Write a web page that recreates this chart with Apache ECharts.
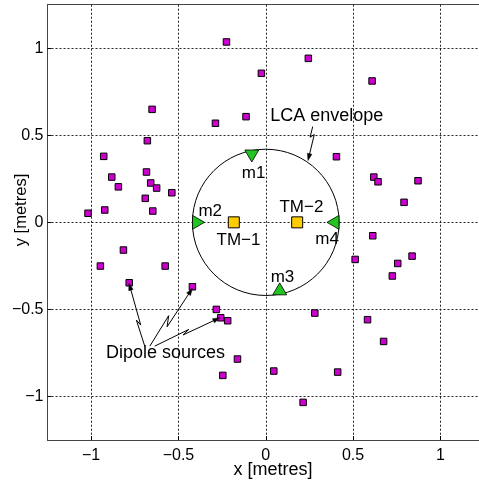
<!DOCTYPE html>
<html><head><meta charset="utf-8">
<script src="https://cdn.jsdelivr.net/npm/echarts@6/dist/echarts.min.js"></script>
<style>html,body{margin:0;padding:0;background:#fff}#c{width:479px;height:486px}</style>
</head><body><div id="c"></div>
<script>
// Dipole source positions (metres)
const sourceX = [-0.225, -0.025, -0.651, -0.288, -0.113, -0.678, -0.928, -0.683, -0.882, -0.844, -0.659, -0.625, -0.538, -0.690, -0.922, -0.647, -1.018,
  0.244, 0.609, 0.405, 0.619, 0.643, 0.872, 0.792,
  -0.815, -0.947, -0.576, -0.782, -0.420, -0.283, -0.258, -0.218, -0.162, -0.246,
  0.613, 0.512, 0.838, 0.756, 0.725, 0.281, 0.583, 0.675, 0.046, 0.412, 0.214];
const sourceY = [1.036, 0.856, 0.649, 0.569, 0.607, 0.469, 0.379, 0.289, 0.260, 0.204, 0.226, 0.197, 0.170, 0.138, 0.071, 0.065, 0.052,
  0.942, 0.812, 0.377, 0.260, 0.233, 0.239, 0.115,
  -0.159, -0.251, -0.251, -0.347, -0.370, -0.500, -0.548, -0.565, -0.785, -0.879,
  -0.077, -0.213, -0.194, -0.236, -0.308, -0.521, -0.559, -0.684, -0.854, -0.860, -1.034];
// Test masses
const testMassX = [-0.183, 0.180];
const testMassY = [0, 0];
// Mirrors (triangles)
const mirrorX = [-0.080, -0.385, 0.080, 0.385];
const mirrorY = [0.381, 0, -0.382, 0];
const mirrorRotate = [180, -90, 0, 90];
// LCA envelope radius
const envelopeRadius = 0.42;
// Ticks
const tickValues = [-1, -0.5, 0, 0.5, 1];
// Text labels
const labelText = ['m1', 'm2', 'm3', 'm4', 'TM\u22121', 'TM\u22122', 'LCA envelope', 'Dipole sources'];
const labelX = [-0.070, -0.318, 0.096, 0.351, -0.156, 0.204, 0.349, -0.574];
const labelY = [0.283, 0.065, -0.317, -0.096, -0.102, 0.085, 0.612, -0.748];
const labelSize = [17, 17, 17, 17, 17, 17, 18, 18];
// Annotation arrows (zigzag polylines, ending at arrowhead)
const arrowPaths = [
  [[0.269, 0.550], [0.254, 0.489], [0.278, 0.504], [0.242, 0.355]],
  [[-0.693, -0.711], [-0.741, -0.561], [-0.716, -0.590], [-0.783, -0.350]],
  [[-0.664, -0.711], [-0.556, -0.536], [-0.565, -0.600], [-0.420, -0.379]],
  [[-0.636, -0.711], [-0.441, -0.615], [-0.474, -0.647], [-0.263, -0.548]]
];

const FONT = 'Liberation Sans, Arial, Helvetica, sans-serif';
const fmt = v => (v < 0 ? '\u2212' + Math.abs(v) : String(v));

const chart = echarts.init(document.getElementById('c'), null, {renderer: 'canvas'});

const axisCommon = {
  type: 'value', min: -1.25, max: 1.25,
  axisLine: {show: true, onZero: false, lineStyle: {color: '#444', width: 1}},
  axisTick: {show: true, inside: true, length: 4, customValues: tickValues, lineStyle: {color: '#000'}},
  axisLabel: {show: true, customValues: tickValues, formatter: fmt, color: '#000', fontSize: 16, fontFamily: FONT},
  splitLine: {show: true, lineStyle: {color: '#222', type: [2, 2], width: 1}}
};

chart.setOption({
  animation: false,
  backgroundColor: '#fff',
  grid: {left: 47.5, top: 4.7, width: 436.5, height: 435.3, containLabel: false, outerBoundsMode: 'none'},
  xAxis: [
    Object.assign({}, axisCommon, {position: 'bottom', axisLabel: Object.assign({}, axisCommon.axisLabel, {margin: 8})}),
    {type: 'value', min: -1.25, max: 1.25, position: 'top',
     axisLine: {show: true, onZero: false, lineStyle: {color: '#444'}}, axisTick: {show: false}, axisLabel: {show: false}, splitLine: {show: false}}
  ],
  yAxis: Object.assign({}, axisCommon, {position: 'left', axisLabel: Object.assign({}, axisCommon.axisLabel, {margin: 4})}),
  graphic: [
    {type: 'text', x: 273, y: 470, style: {text: 'x [metres]', fontSize: 18, fontFamily: FONT, fill: '#000', align: 'center', verticalAlign: 'middle'}},
    {type: 'text', x: 21, y: 210, rotation: Math.PI / 2, style: {text: 'y [metres]', fontSize: 16.5, fontFamily: FONT, fill: '#000', align: 'center', verticalAlign: 'middle'}}
  ],
  series: [
    {
      type: 'custom', name: 'LCA envelope', silent: true, z: 1,
      data: [[0, 0]],
      renderItem: function (params, api) {
        const c = api.coord([api.value(0), api.value(1)]);
        const r = api.size([envelopeRadius, envelopeRadius]);
        return {type: 'ellipse', shape: {cx: c[0], cy: c[1], rx: r[0], ry: r[1]},
                style: {fill: 'none', stroke: '#000', lineWidth: 1}};
      }
    },
    {
      type: 'scatter', name: 'Dipole sources', z: 3,
      symbol: 'rect', symbolSize: 6.5,
      itemStyle: {color: '#cc00cc', borderColor: '#000', borderWidth: 1, opacity: 1},
      data: sourceX.map((x, i) => [x, sourceY[i]])
    },
    {
      type: 'scatter', name: 'Test masses', z: 3,
      symbol: 'rect', symbolSize: 11,
      itemStyle: {color: '#ffcc00', borderColor: '#000', borderWidth: 1, opacity: 1},
      data: testMassX.map((x, i) => [x, testMassY[i]])
    },
    {
      type: 'scatter', name: 'Mirrors', z: 3,
      symbol: 'triangle', symbolSize: [14, 12],
      itemStyle: {color: '#22c422', borderColor: '#000', borderWidth: 0.8, opacity: 1},
      data: mirrorX.map((x, i) => ({value: [x, mirrorY[i]], symbolRotate: mirrorRotate[i]}))
    },
    {
      type: 'custom', name: 'arrows', silent: true, z: 4,
      data: arrowPaths.map((p, i) => [p[0][0], p[0][1], i]),
      renderItem: function (params, api) {
        const path = arrowPaths[api.value(2)];
        const pts = path.map(p => api.coord(p));
        const tip = pts[pts.length - 1], prev = pts[pts.length - 2];
        let dx = tip[0] - prev[0], dy = tip[1] - prev[1];
        const len = Math.sqrt(dx * dx + dy * dy); dx /= len; dy /= len;
        const L = 7, W = 2.3;
        const bx = tip[0] - dx * L, by = tip[1] - dy * L;
        return {type: 'group', children: [
          {type: 'polyline', shape: {points: pts.slice(0, -1).concat([[bx + dx * 1, by + dy * 1]])}, style: {fill: 'none', stroke: '#000', lineWidth: 1}},
          {type: 'polygon', shape: {points: [tip, [bx - dy * W, by + dx * W], [bx + dy * W, by - dx * W]]}, style: {fill: '#000', stroke: '#000', lineWidth: 0.5}}
        ]};
      }
    },
    {
      type: 'custom', name: 'labels', silent: true, z: 5,
      data: labelX.map((x, i) => [x, labelY[i], i]),
      renderItem: function (params, api) {
        const i = api.value(2);
        const c = api.coord([api.value(0), api.value(1)]);
        return {type: 'text', x: c[0], y: c[1],
                style: {text: labelText[i], fontSize: labelSize[i], fontFamily: FONT, fill: '#000', align: 'center', verticalAlign: 'middle'}};
      }
    }
  ]
});
</script>
</body></html>
